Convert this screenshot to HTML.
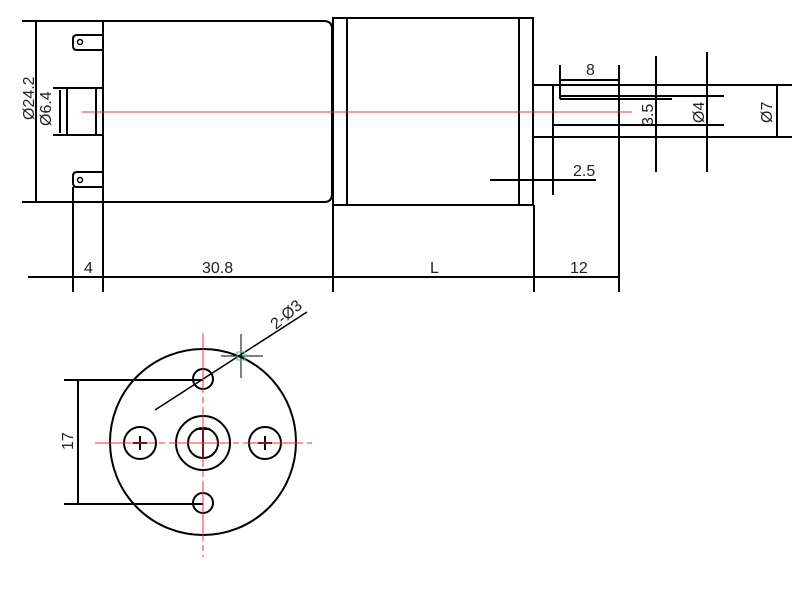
<!DOCTYPE html>
<html><head><style>body{margin:0;background:#fff}svg text{font-family:"Liberation Sans Narrow","Liberation Sans",sans-serif;font-size:16px;fill:#222}</style></head><body>
<svg width="804" height="589" viewBox="0 0 804 589" xmlns="http://www.w3.org/2000/svg">
<rect width="804" height="589" fill="#fff"/>
<g stroke="#000" stroke-width="2" fill="none">
<path d="M22 21H324Q332 21 332 29V194Q332 202 324 202H22"/>
<line x1="36" y1="21" x2="36" y2="202"/>
<line x1="103" y1="21" x2="103" y2="292"/>
<path d="M103 35H77Q73 35 73 39V46Q73 50 77 50H103"/>
<path d="M103 172H77Q73 172 73 176V183Q73 187 77 187H103"/>
<circle cx="80" cy="42" r="2.5" stroke-width="1.5"/>
<circle cx="80" cy="180" r="2.5" stroke-width="1.5"/>
<line x1="73" y1="187" x2="73" y2="292"/>
<path d="M103 88H67V135H103M96 88V135M53 88H67M53 135H67M60 90V133"/>
<rect x="333" y="18" width="200" height="187"/>
<line x1="347" y1="18" x2="347" y2="205"/>
<line x1="519" y1="18" x2="519" y2="205"/>
<line x1="333" y1="205" x2="333" y2="292"/>
<line x1="534" y1="205" x2="534" y2="292"/>
<line x1="534" y1="85" x2="792" y2="85"/>
<line x1="534" y1="137" x2="792" y2="137"/>
<line x1="553" y1="86" x2="553" y2="195"/>
<line x1="560" y1="96" x2="724" y2="96"/>
<line x1="553" y1="125" x2="724" y2="125"/>
<line x1="560" y1="65" x2="560" y2="99"/>
<line x1="560" y1="99" x2="672" y2="99"/>
<line x1="560" y1="80" x2="619" y2="80"/>
<line x1="619" y1="65" x2="619" y2="292"/>
<line x1="656" y1="56" x2="656" y2="172"/>
<line x1="707" y1="52" x2="707" y2="172"/>
<line x1="777" y1="85" x2="777" y2="137"/>
<line x1="490" y1="180" x2="596" y2="180"/>
<line x1="28" y1="277" x2="620" y2="277"/>
<circle cx="203" cy="442" r="93"/>
<circle cx="203" cy="379" r="10"/>
<circle cx="203" cy="503" r="10"/>
<circle cx="140" cy="443" r="16"/>
<circle cx="265" cy="443" r="16"/>
<circle cx="203" cy="443" r="27"/>
<circle cx="203" cy="443" r="15"/>
<path d="M133 443H147M140 436V450M258 443H272M265 436V450M196 429H210M203 429V457"/>
<line x1="64" y1="380" x2="203" y2="380"/>
<line x1="64" y1="504" x2="203" y2="504"/>
<line x1="78" y1="380" x2="78" y2="504"/>
<line x1="155" y1="410" x2="307" y2="312" stroke-width="1.5"/>
<path d="M221 356H263M241 334V378" stroke-width="1"/>
</g>
<rect x="237" y="352" width="8" height="8" fill="none" stroke="#3c9" stroke-width="1"/>
<g stroke="#e33" stroke-width="1" fill="none">
<line x1="82" y1="112" x2="632" y2="112"/>
<line x1="95" y1="443" x2="312" y2="443" stroke-dasharray="60 4 6 4"/>
<line x1="203" y1="333" x2="203" y2="557" stroke-dasharray="60 4 6 4"/>
</g>
<text x="84" y="273">4</text>
<text x="202" y="273">30.8</text>
<text x="430" y="273">L</text>
<text x="570" y="273">12</text>
<text x="586" y="75">8</text>
<text x="573" y="176">2.5</text>
<text transform="translate(34 120) rotate(-90)">Ø24.2</text>
<text transform="translate(51 126) rotate(-90)">Ø6.4</text>
<text transform="translate(653 126) rotate(-90)">3.5</text>
<text transform="translate(704 123) rotate(-90)">Ø4</text>
<text transform="translate(772 123) rotate(-90)">Ø7</text>
<text transform="translate(73 450) rotate(-90)">17</text>
<text transform="translate(276 330) rotate(-40)">2-Ø3</text>
</svg>
</body></html>
